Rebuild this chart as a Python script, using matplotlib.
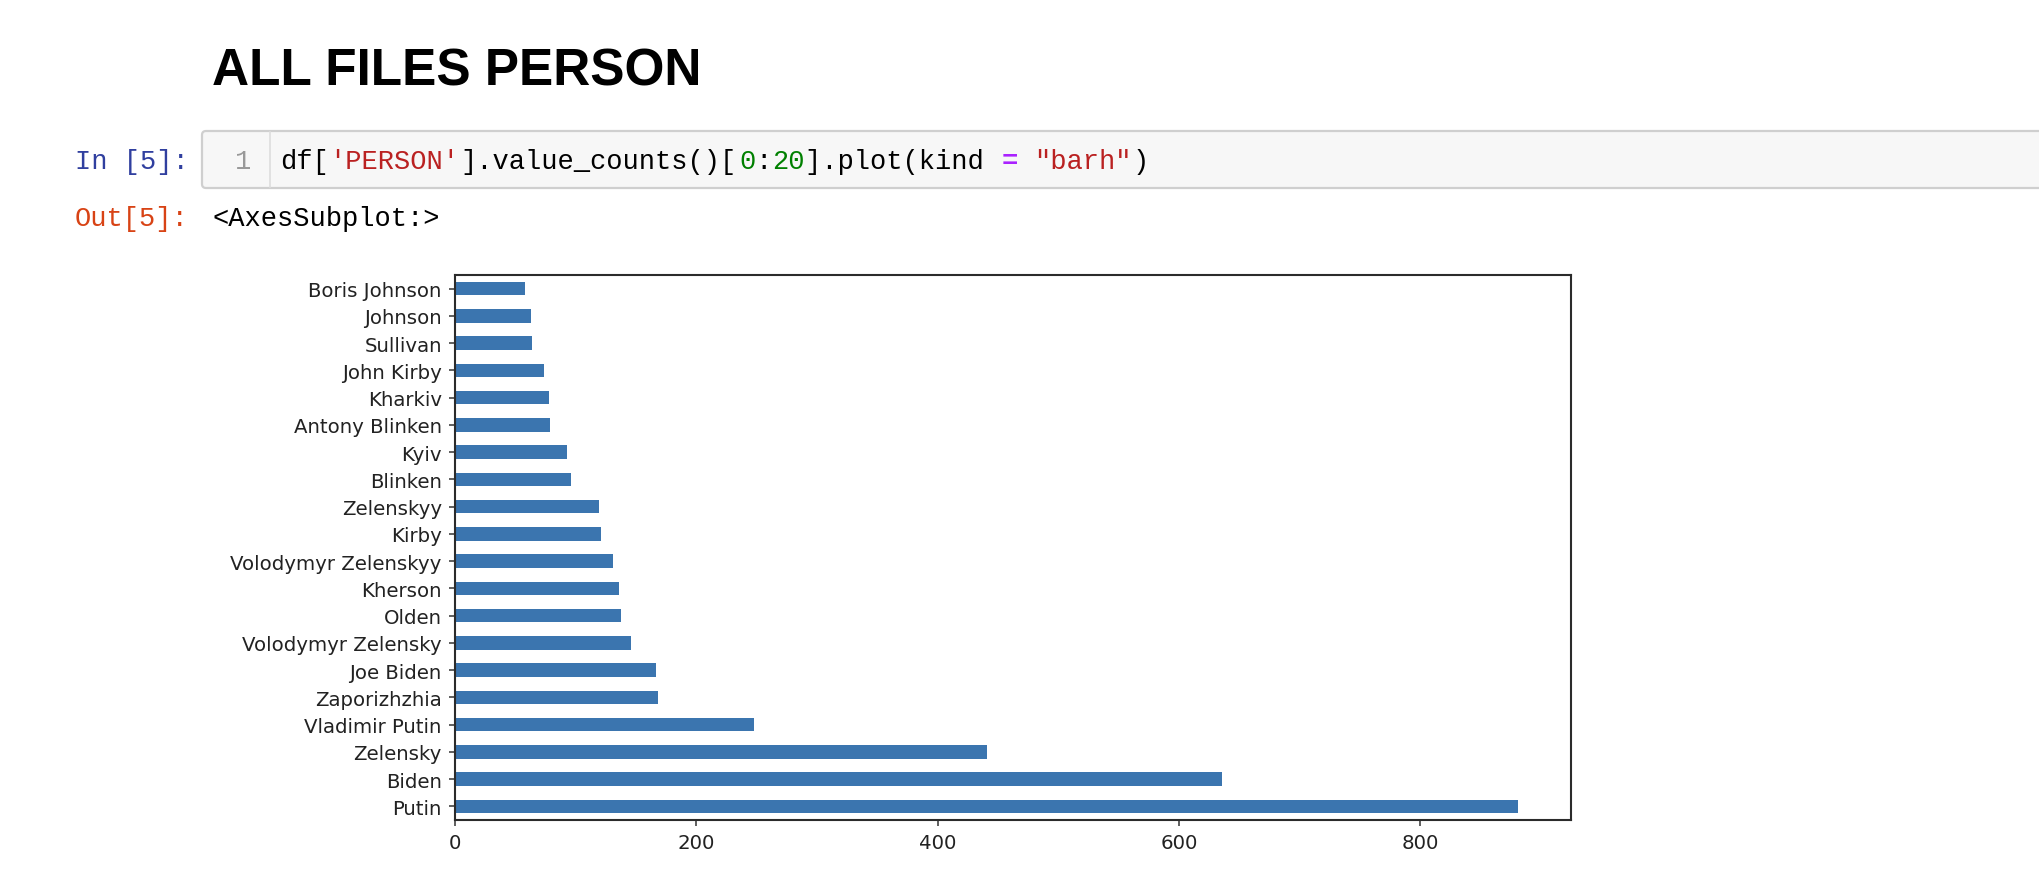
import matplotlib
matplotlib.use("Agg")
import matplotlib.pyplot as plt
from matplotlib.patches import FancyBboxPatch
from matplotlib.lines import Line2D

# Top 20 PERSON counts, largest first (as value_counts() returns them)
names = [
    "Putin", "Biden", "Zelensky", "Vladimir Putin", "Zaporizhzhia",
    "Joe Biden", "Volodymyr Zelensky", "Olden", "Kherson",
    "Volodymyr Zelenskyy", "Kirby", "Zelenskyy", "Blinken", "Kyiv",
    "Antony Blinken", "Kharkiv", "John Kirby", "Sullivan", "Johnson",
    "Boris Johnson",
]
counts = [881, 636, 441, 248, 168, 167, 146, 138, 136, 131,
          121, 119, 96, 93, 79, 78, 74, 64, 63, 58]

W, H = 2040, 878
fig = plt.figure(figsize=(W / 100, H / 100), dpi=100)
fig.patch.set_facecolor("white")

# -----------------------------
# Notebook "page" overlay in pixel coordinates
# -----------------------------
page = fig.add_axes([0, 0, 1, 1])
page.set_xlim(0, W)
page.set_ylim(H, 0)
page.axis("off")

page.text(212, 86, "ALL FILES PERSON", fontsize=37, fontweight="bold",
          family="Liberation Sans", color="black", va="baseline", ha="left")

# code cell box
box = FancyBboxPatch((202, 132), W - 202 + 20, 57,
                     boxstyle="round,pad=0,rounding_size=4",
                     facecolor="#F7F7F7", edgecolor="#CFCFCF", linewidth=1.6)
page.add_patch(box)
page.add_line(Line2D([270, 270], [133, 188], color="#DDDDDD", linewidth=1.2))

mono = "Liberation Mono"
fs = 19.5
cw = 16.4  # char advance in px

page.text(75, 162, "In [5]:", family=mono, fontsize=fs, color="#303F9F",
          va="center", ha="left")
page.text(251, 162, "1", family=mono, fontsize=fs, color="#999999",
          va="center", ha="right")

code_parts = [
    ("df[", "black"), ("'PERSON'", "#BA2121"), ("].value_counts()[", "black"),
    ("0", "#008000"), (":", "black"), ("20", "#008000"),
    ("].plot(kind ", "black"), ("=", "#AA22FF"), (" ", "black"),
    ('"barh"', "#BA2121"), (")", "black"),
]
pos = 0
for txt, col in code_parts:
    page.text(280 + pos * cw, 162, txt, family=mono, fontsize=fs, color=col,
              va="center", ha="left",
              fontweight="bold" if txt == "=" else "normal")
    pos += len(txt)

page.text(75, 219, "Out[5]:", family=mono, fontsize=fs, color="#D84315",
          va="center", ha="left")
page.text(213, 219, "<AxesSubplot:>", family=mono, fontsize=fs, color="black",
          va="center", ha="left")

# -----------------------------
# The barh plot
# -----------------------------
left, right, top, bottom = 455, 1571, 276, 821
ax = fig.add_axes([left / W, 1 - bottom / H, (right - left) / W, (bottom - top) / H])
ypos = list(range(len(names)))
ax.barh(ypos, counts, height=0.5, color="#3B75AF")
ax.set_yticks(ypos)
ax.set_yticklabels(names)
ax.set_ylim(-0.5, len(names) - 0.5)
ax.set_xticks([0, 200, 400, 600, 800])
ax.tick_params(labelsize=14.2, labelcolor="#222222", length=4.5, width=1.1,
               color="#333333", pad=5)
for s in ax.spines.values():
    s.set_linewidth(1.5)
    s.set_color("#2b2b2b")

fig.savefig("out.png", dpi=100, facecolor="white")
